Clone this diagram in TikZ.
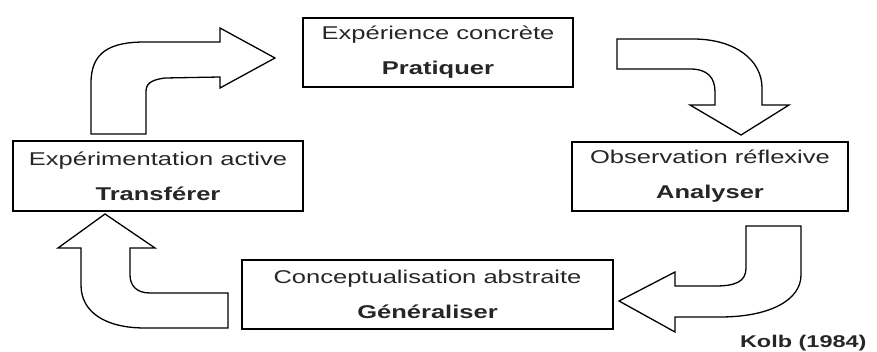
\documentclass[tikz,border=0pt]{standalone}
\usepackage{fontspec}
\setmainfont[FakeStretch=1.38]{Liberation Sans}
\usepackage{tikz}
\definecolor{txt}{HTML}{262626}
\tikzset{
  stage/.style={rectangle, draw=black, line width=1.6pt, fill=white, align=center,
    text=txt, font=\fontsize{18.5}{35}\selectfont},
  bloc/.style={draw=black, line width=1.3pt, fill=white, line join=miter}
}

\begin{document}
\begin{tikzpicture}[x=1pt, y=-1pt]
		\useasboundingbox (0,0) rectangle (877,352);
		% the four stages of the cycle
		\node at (438,52.5) [stage, minimum width=270pt, minimum height=69pt] (P) {Expérience concrète\\\textbf{Pratiquer}};
		\node at (710,176.5) [stage, minimum width=276pt, minimum height=69pt] (A) {Observation réflexive\\\textbf{Analyser}};
		\node at (427.5,294.5) [stage, minimum width=371pt, minimum height=69pt] (G) {Conceptualisation abstraite\\\textbf{Généraliser}};
		\node at (158,176) [stage, minimum width=290pt, minimum height=70pt] (T) {Expérimentation active\\\textbf{Transférer}};
		% block arrows between the stages
		\draw[bloc] (91,134) -- (91,83) .. controls (91,52) and (110,42) .. (145,42) -- (220,42) -- (220,28) -- (275,58)
			-- (220,88) -- (220,77) -- (165,78) .. controls (150,80) and (146,84) .. (146,92) -- (146,134) -- cycle;
		\draw[bloc] (617,39) -- (693,39) .. controls (735,39) and (762,60) .. (762,88) -- (762,105) -- (789,105) -- (741,135)
			-- (690,105) -- (715,105) -- (715,92) .. controls (715,78) and (708,69) .. (690,69) -- (617,69) -- cycle;
		\draw[bloc] (746,226) -- (801,226) -- (801,275) .. controls (801,300) and (770,317) .. (720,317) -- (675,317) -- (675,332)
			-- (619,301) -- (675,272) -- (675,286) -- (715,286) .. controls (735,286) and (746,282) .. (746,268) -- cycle;
		\draw[bloc] (228,293) -- (150,293) .. controls (136,293) and (130,285) .. (130,275) -- (130,248) -- (155,248) -- (105,214)
			-- (58,248) -- (81,248) -- (81,285) .. controls (81,312) and (105,328) .. (145,328) -- (228,328) -- cycle;
		\node at (870,347) [anchor=base east, font=\fontsize{17}{17}\selectfont\bfseries, text=txt] (K) {Kolb (1984)};
		\end{tikzpicture}
\end{document}
